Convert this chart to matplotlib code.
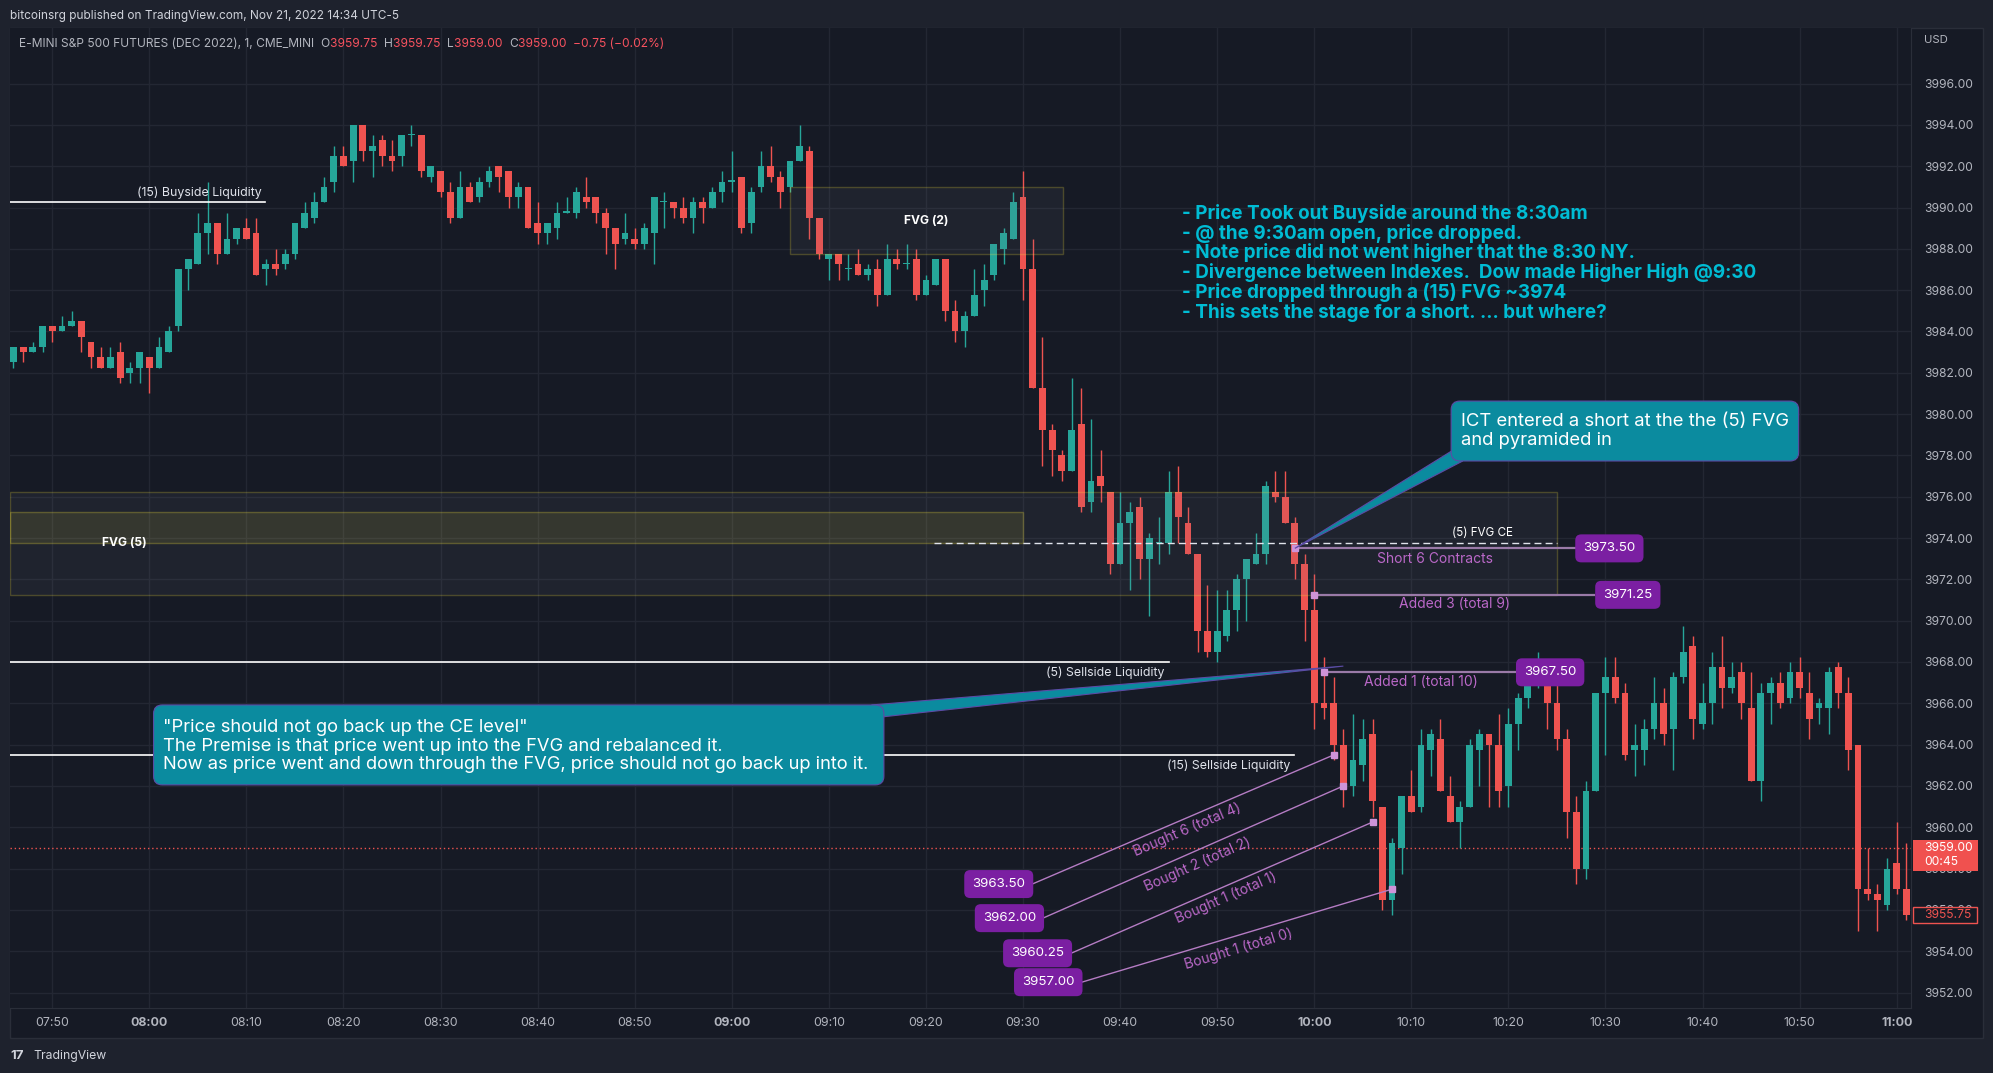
import numpy as np
import matplotlib.pyplot as plt
from matplotlib.patches import Rectangle, FancyBboxPatch, Polygon
from matplotlib.transforms import blended_transform_factory

plt.rcParams['font.family'] = ['Inter', 'DejaVu Sans']

W, H = 1993, 1073

# 1-minute candles, 07:46 .. 11:01 (minutes counted from 08:00)
first_minute = -14
opens = [
    3982.5, 3983.25, 3983.0, 3983.25, 3984.25, 3984.0, 3984.25, 3984.5, 3983.5, 3982.75,
    3982.25, 3983.0, 3982.0, 3982.25, 3982.75, 3982.25, 3983.0, 3984.25, 3987.0, 3987.25,
    3988.75, 3989.25, 3987.75, 3988.5, 3989.0, 3988.75, 3987.0, 3987.25, 3987.25, 3987.75,
    3989.0, 3989.5, 3990.25, 3991.25, 3992.5, 3992.25, 3994.0, 3992.75, 3993.25, 3992.5,
    3992.5, 3993.5, 3993.5, 3991.5, 3991.75, 3990.75, 3989.5, 3991.0, 3990.5, 3991.25,
    3992.0, 3991.75, 3990.5, 3991.0, 3989.25, 3988.75, 3989.0, 3989.75, 3989.75, 3990.5,
    3990.5, 3989.75, 3989.0, 3988.5, 3988.5, 3988.25, 3988.75, 3990.25, 3990.25, 3990.0,
    3989.5, 3990.25, 3990.0, 3990.75, 3991.25, 3991.5, 3989.25, 3991.0, 3992.0, 3991.5,
    3991.0, 3992.25, 3992.75, 3989.5, 3987.5, 3987.75, 3987.0, 3987.25, 3986.75, 3987.0,
    3985.75, 3987.5, 3987.25, 3987.5, 3985.75, 3986.25, 3987.5, 3985.0, 3984.0, 3984.75,
    3986.0, 3986.75, 3988.0, 3988.5, 3990.5, 3987.0, 3981.25, 3979.25, 3978.0, 3977.25,
    3979.5, 3975.75, 3977.0, 3976.25, 3972.75, 3974.75, 3975.5, 3973.0, 3973.75, 3973.75,
    3976.25, 3974.75, 3973.25, 3969.5, 3968.5, 3969.25, 3970.5, 3972.0, 3972.75, 3973.25,
    3976.25, 3976.0, 3974.75, 3972.75, 3970.5, 3966.0, 3966.0, 3964.0, 3962.0, 3963.0,
    3964.5, 3961.0, 3956.5, 3959.0, 3961.5, 3961.0, 3963.75, 3964.25, 3961.5, 3960.25,
    3961.0, 3963.75, 3964.5, 3964.0, 3962.0, 3965.0, 3966.25, 3967.0, 3967.75, 3966.0,
    3964.25, 3960.75, 3958.0, 3961.75, 3966.5, 3967.25, 3966.5, 3963.75, 3963.75, 3964.75,
    3966.0, 3964.75, 3967.25, 3968.75, 3965.0, 3966.0, 3967.75, 3966.75, 3967.5, 3965.75,
    3962.25, 3966.5, 3967.0, 3966.25, 3967.5, 3966.5, 3965.75, 3965.75, 3967.75, 3966.5,
    3964.0, 3957.0, 3956.75, 3956.25, 3958.25, 3957.0,
]
highs = [
    3983.25, 3983.25, 3983.5, 3984.25, 3984.25, 3984.75, 3985.0, 3984.5, 3983.5, 3983.25,
    3983.25, 3983.5, 3982.5, 3983.0, 3982.75, 3983.75, 3984.25, 3987.0, 3987.5, 3989.75,
    3991.25, 3989.25, 3989.75, 3989.0, 3989.5, 3989.5, 3987.5, 3988.0, 3988.0, 3989.25,
    3990.25, 3990.75, 3991.5, 3993.0, 3993.0, 3994.0, 3994.0, 3993.5, 3993.5, 3993.25,
    3993.5, 3994.0, 3993.5, 3992.0, 3991.75, 3991.25, 3991.75, 3991.25, 3991.5, 3992.0,
    3992.0, 3991.75, 3991.25, 3991.0, 3990.25, 3989.25, 3990.25, 3990.5, 3991.0, 3991.5,
    3990.5, 3990.0, 3989.0, 3989.75, 3989.0, 3989.25, 3990.5, 3990.75, 3990.25, 3990.5,
    3990.5, 3990.5, 3991.0, 3991.75, 3992.75, 3991.5, 3991.0, 3992.75, 3993.0, 3991.75,
    3992.25, 3994.0, 3993.0, 3989.5, 3987.75, 3987.75, 3987.75, 3988.0, 3987.25, 3987.5,
    3988.25, 3988.0, 3988.25, 3988.0, 3986.75, 3987.5, 3987.5, 3985.5, 3985.0, 3987.0,
    3987.25, 3988.25, 3989.0, 3990.75, 3991.75, 3988.5, 3983.75, 3979.5, 3978.25, 3981.75,
    3981.25, 3979.75, 3978.25, 3976.25, 3976.25, 3975.75, 3976.0, 3974.25, 3975.0, 3977.25,
    3977.5, 3975.5, 3973.25, 3971.75, 3971.5, 3971.5, 3972.25, 3973.0, 3974.25, 3976.75,
    3977.25, 3977.25, 3975.0, 3973.25, 3972.25, 3968.25, 3967.25, 3964.75, 3965.5, 3965.25,
    3965.25, 3961.0, 3959.5, 3961.5, 3962.75, 3964.75, 3964.75, 3965.25, 3962.5, 3961.25,
    3964.25, 3964.75, 3964.5, 3965.5, 3965.75, 3966.5, 3967.5, 3968.5, 3968.0, 3967.25,
    3964.75, 3961.5, 3962.25, 3966.5, 3968.25, 3968.25, 3967.0, 3965.0, 3965.25, 3967.25,
    3966.75, 3967.5, 3969.75, 3969.25, 3967.0, 3968.5, 3969.25, 3968.0, 3968.0, 3967.5,
    3967.0, 3967.25, 3967.5, 3968.0, 3968.25, 3967.5, 3966.25, 3967.75, 3968.0, 3967.25,
    3964.0, 3959.0, 3957.25, 3958.5, 3960.25, 3959.25,
]
lows = [
    3982.25, 3982.5, 3983.0, 3983.0, 3983.5, 3984.0, 3984.25, 3983.0, 3982.25, 3982.25,
    3982.25, 3981.5, 3981.5, 3981.5, 3981.0, 3982.25, 3983.0, 3984.0, 3986.0, 3987.25,
    3987.75, 3987.25, 3987.75, 3988.25, 3988.5, 3986.75, 3986.25, 3986.75, 3987.0, 3987.5,
    3989.0, 3989.25, 3990.25, 3990.75, 3992.0, 3991.25, 3992.25, 3991.5, 3992.0, 3991.75,
    3992.0, 3993.0, 3991.5, 3991.25, 3990.5, 3989.25, 3989.5, 3990.25, 3990.25, 3991.0,
    3990.75, 3990.0, 3990.0, 3989.0, 3988.25, 3988.25, 3988.5, 3989.75, 3989.5, 3990.0,
    3989.25, 3987.75, 3987.0, 3988.25, 3988.0, 3988.0, 3987.25, 3989.0, 3989.5, 3989.25,
    3988.75, 3989.25, 3990.0, 3990.25, 3990.75, 3988.75, 3988.75, 3990.75, 3991.25, 3990.0,
    3990.75, 3992.25, 3988.5, 3987.5, 3986.5, 3986.5, 3986.5, 3986.75, 3986.5, 3985.25,
    3985.75, 3987.0, 3987.0, 3985.5, 3985.75, 3986.25, 3984.5, 3983.5, 3983.25, 3984.75,
    3985.25, 3986.5, 3987.25, 3988.5, 3985.5, 3981.25, 3977.5, 3977.0, 3976.75, 3977.25,
    3975.25, 3975.25, 3975.75, 3972.25, 3972.75, 3971.5, 3972.0, 3970.25, 3972.75, 3973.25,
    3973.75, 3973.25, 3968.5, 3968.25, 3968.0, 3969.0, 3969.5, 3970.0, 3972.75, 3972.75,
    3975.75, 3974.75, 3972.0, 3969.0, 3964.75, 3965.25, 3963.25, 3961.0, 3961.5, 3962.25,
    3960.5, 3956.0, 3955.75, 3957.75, 3960.75, 3960.75, 3962.5, 3961.75, 3960.25, 3959.0,
    3961.0, 3962.0, 3961.0, 3961.0, 3961.0, 3963.75, 3965.75, 3966.75, 3964.75, 3963.75,
    3959.5, 3957.25, 3957.5, 3961.75, 3963.5, 3966.0, 3963.25, 3962.5, 3963.0, 3964.25,
    3964.0, 3962.75, 3967.0, 3964.25, 3964.75, 3965.0, 3965.75, 3966.5, 3965.25, 3962.25,
    3961.25, 3965.0, 3965.75, 3966.0, 3966.25, 3964.25, 3965.0, 3964.5, 3965.75, 3962.75,
    3955.0, 3956.5, 3955.0, 3956.0, 3956.75, 3955.5,
]
closes = [
    3983.25, 3983.0, 3983.25, 3984.25, 3984.0, 3984.25, 3984.5, 3983.75, 3982.75, 3982.25,
    3982.75, 3981.75, 3982.25, 3983.0, 3982.25, 3983.25, 3984.0, 3987.0, 3987.5, 3988.75,
    3989.25, 3987.75, 3988.5, 3989.0, 3988.5, 3986.75, 3987.25, 3987.0, 3987.75, 3989.25,
    3989.75, 3990.25, 3991.0, 3992.5, 3992.0, 3994.0, 3992.75, 3993.0, 3992.5, 3992.25,
    3993.5, 3993.5, 3991.75, 3992.0, 3990.75, 3989.5, 3991.0, 3990.25, 3991.25, 3991.75,
    3991.5, 3990.5, 3991.0, 3989.0, 3988.75, 3989.25, 3989.75, 3989.75, 3990.75, 3990.25,
    3989.75, 3989.0, 3988.25, 3988.75, 3988.25, 3989.0, 3990.5, 3990.25, 3990.0, 3989.5,
    3990.25, 3990.0, 3990.75, 3991.25, 3991.25, 3989.0, 3990.75, 3992.0, 3991.5, 3990.75,
    3992.25, 3993.0, 3989.5, 3987.75, 3987.75, 3987.25, 3987.0, 3986.75, 3987.0, 3985.75,
    3987.5, 3987.25, 3987.25, 3985.75, 3986.5, 3987.5, 3985.0, 3984.0, 3984.75, 3985.75,
    3986.5, 3988.25, 3988.75, 3990.25, 3987.0, 3981.25, 3979.25, 3978.25, 3977.25, 3979.25,
    3975.5, 3976.75, 3976.5, 3972.75, 3974.75, 3975.25, 3973.0, 3974.0, 3973.75, 3976.25,
    3975.0, 3973.25, 3969.5, 3968.5, 3969.5, 3970.5, 3972.0, 3973.0, 3973.25, 3976.5,
    3976.0, 3974.75, 3972.75, 3970.5, 3966.0, 3965.75, 3964.0, 3962.0, 3963.25, 3964.25,
    3961.25, 3956.5, 3959.25, 3961.5, 3960.75, 3964.0, 3964.5, 3961.75, 3960.25, 3961.0,
    3964.0, 3964.5, 3964.0, 3961.75, 3965.0, 3966.25, 3967.0, 3967.75, 3966.0, 3964.25,
    3960.75, 3958.0, 3961.75, 3966.5, 3967.25, 3966.25, 3963.5, 3964.0, 3964.75, 3966.0,
    3964.5, 3967.25, 3968.5, 3965.25, 3966.0, 3967.75, 3966.75, 3967.25, 3966.0, 3962.25,
    3966.5, 3967.0, 3966.0, 3967.5, 3966.75, 3965.25, 3966.0, 3967.5, 3966.5, 3963.75,
    3957.0, 3956.75, 3956.5, 3958.0, 3957.0, 3955.75,
]

price_ticks = np.arange(3952, 3997, 2)
time_ticks = np.arange(-10, 181, 10)

# drawings
buyside_15 = 3990.25
sellside_5 = 3968.0
sellside_15 = 3963.5
fvg2_time = (66.0, 94.1)
fvg2_price = (3987.75, 3991.0)
fvg5_price = (3971.25, 3976.25)
fvg5_inner_price = (3973.75, 3975.25)
fvg5_end = 145.0
fvg5_inner_end = 90.0
fvg5_ce = 3973.75
last_price = 3959.0
prev_close = 3955.75

entry_times = [118, 120, 121]
entry_prices = [3973.5, 3971.25, 3967.5]
entry_texts = ['Short 6 Contracts', 'Added 3 (total 9)', 'Added 1 (total 10)']
exit_times = [122, 123, 126, 128]
exit_prices = [3963.5, 3962.0, 3960.25, 3957.0]
exit_texts = ['Bought 6 (total 4)', 'Bought 2 (total 2)', 'Bought 1 (total 1)', 'Bought 1 (total 0)']

notes = [
    '- Price Took out Buyside around the 8:30am',
    '- @ the 9:30am open, price dropped.',
    '- Note price did not went higher that the 8:30 NY.',
    '- Divergence between Indexes.  Dow made Higher High @9:30',
    '- Price dropped through a (15) FVG ~3974',
    '- This sets the stage for a short. ... but where?',
]
ict_text = 'ICT entered a short at the the (5) FVG\nand pyramided in'
ce_text = ('"Price should not go back up the CE level"\n'
           'The Premise is that price went up into the FVG and rebalanced it.\n'
           'Now as price went and down through the FVG, price should not go back up into it.')

# colours
BG = '#161a25'
FRAME = '#1e222d'
UP = '#26a69a'
DOWN = '#ef5350'
TXT = '#b2b5be'
PURPLE = '#7b1fa2'
PURPLE_TXT = '#ba68c8'
CALLOUT = '#0b8b9f'

fig = plt.figure(figsize=(W / 100, H / 100), dpi=100, facecolor=FRAME)

# pane background (behind the axes)
fig.patches.append(Rectangle((10 / W, 1 - 1038 / H), 1973 / W, 1010 / H,
                             transform=fig.transFigure, fc=BG, ec='#2a2e39', lw=1, zorder=-5))

ax = fig.add_axes([10 / W, 1 - 1008 / H, 1901 / W, 980 / H])
ax.set_facecolor(BG)
ax.set_xlim(-14.35, 181.47)
ax.set_ylim(3951.25, 3998.69)
x_left = ax.get_xlim()[0]

for s in ax.spines.values():
    s.set_color('#2a2e39')
ax.spines['left'].set_visible(False)
ax.spines['top'].set_visible(False)

ax.yaxis.tick_right()
ax.set_yticks(price_ticks)
ax.set_yticklabels(['%.2f' % p for p in price_ticks])
labels = []
for t in time_ticks:
    hh, mm = divmod(480 + int(t), 60)
    labels.append('%02d:%02d' % (hh, mm))
ax.set_xticks(time_ticks)
ax.set_xticklabels(labels)
for lab, t in zip(ax.get_xticklabels(), time_ticks):
    if t % 60 == 0:
        lab.set_fontweight('bold')
ax.tick_params(axis='y', length=0, pad=9.5, labelsize=8.7, labelcolor=TXT)
ax.tick_params(axis='x', length=0, pad=6.5, labelsize=8.9, labelcolor=TXT)
ax.grid(True, color='#232733', lw=1)
ax.set_axisbelow(True)

# candles
o = np.array(opens)
h = np.array(highs)
l = np.array(lows)
c = np.array(closes)
x = first_minute + np.arange(len(o))
col = np.where(c >= o, UP, DOWN)
ax.vlines(x, l, h, colors=col, lw=1, zorder=3)
ax.bar(x, np.maximum(np.abs(c - o), 0.06), width=0.7, bottom=np.minimum(o, c),
       color=col, zorder=3.1)

# last price line
ax.axhline(last_price, color=DOWN, ls=(0, (1, 2)), lw=1, zorder=2.5)

# FVG boxes
ax.add_patch(Rectangle((x_left, fvg5_price[0]), fvg5_end - x_left, fvg5_price[1] - fvg5_price[0],
                       fc=(0.47, 0.48, 0.53, 0.10), ec=(1, 0.92, 0.23, 0.22), lw=1, zorder=4))
ax.add_patch(Rectangle((x_left, fvg5_inner_price[0]), fvg5_inner_end - x_left,
                       fvg5_inner_price[1] - fvg5_inner_price[0],
                       fc=(1, 0.92, 0.23, 0.10), ec=(1, 0.92, 0.23, 0.25), lw=1, zorder=4))
ax.add_patch(Rectangle((fvg2_time[0], fvg2_price[0]), fvg2_time[1] - fvg2_time[0],
                       fvg2_price[1] - fvg2_price[0],
                       fc=(0.47, 0.48, 0.53, 0.10), ec=(1, 0.92, 0.23, 0.22), lw=1, zorder=4))
ax.text(-2.55, 3973.75, 'FVG (5)', color='white', fontsize=8.7, fontweight='bold',
        ha='center', va='center', zorder=6)
ax.text(80, 3989.35, 'FVG (2)', color='white', fontsize=8.7, fontweight='bold',
        ha='center', va='center', zorder=6)
ax.plot([80.8, fvg5_end], [fvg5_ce, fvg5_ce], color='#e0e3eb', lw=1,
        ls=(0, (5, 3)), zorder=5)
ax.text(140.5, fvg5_ce + 0.2, '(5) FVG CE', color='white', fontsize=8.4,
        ha='right', va='bottom', zorder=6)

# liquidity lines
ax.plot([x_left, 11.9], [buyside_15] * 2, color='white', lw=1.2, zorder=5)
ax.text(11.6, buyside_15 + 0.17, '(15) Buyside Liquidity', color='#e0e3eb', fontsize=8.9,
        ha='right', va='bottom', zorder=6)
ax.plot([x_left, 105.0], [sellside_5] * 2, color='white', lw=1.2, zorder=5)
ax.text(104.6, sellside_5 - 0.2, '(5) Sellside Liquidity', color='#e0e3eb', fontsize=8.9,
        ha='right', va='top', zorder=6)
ax.plot([x_left, 117.9], [sellside_15] * 2, color='white', lw=1.2, zorder=5)
ax.text(117.5, sellside_15 - 0.2, '(15) Sellside Liquidity', color='#e0e3eb', fontsize=8.9,
        ha='right', va='top', zorder=6)

# trades
half_w = 3.45
entry_label_x = [150.4, 152.3, 144.3]
entry_text_xy = [(132.4, 3973.0), (134.5, 3970.8), (131.0, 3967.05)]
label_box = dict(boxstyle='round,pad=0.6,rounding_size=0.45', fc=PURPLE, ec='none')
for t, p, txt, lx, (tx, ty) in zip(entry_times, entry_prices, entry_texts,
                                      entry_label_x, entry_text_xy):
    ax.plot([t, lx - half_w], [p, p], color='#9a7aa8', lw=1.6, zorder=5)
    ax.plot(t, p, 's', ms=4, color='#ce93d8', zorder=7)
    ax.text(lx, p, '%.2f' % p, color='white', fontsize=9.6, ha='center', va='center', zorder=8,
            bbox=label_box)
    ax.text(tx, ty, txt, color=PURPLE_TXT, fontsize=10, ha='center', va='center', zorder=6)

exit_label_xy = [(87.5, 3957.25), (88.6, 3955.6), (91.5, 3953.9), (92.6, 3952.5)]
exit_text_xy = [(106.9, 3959.87), (108.0, 3958.2), (110.9, 3956.56), (112.2, 3954.1)]
for t, p, txt, (lx, ly), (tx, ty) in zip(exit_times, exit_prices, exit_texts,
                                          exit_label_xy, exit_text_xy):
    ax.plot([lx + half_w, t], [ly, p], color='#b57cc4', lw=1.0, zorder=5)
    ax.plot(t, p, 's', ms=4, color='#ce93d8', zorder=7)
    ax.text(lx, ly, '%.2f' % p, color='white', fontsize=9.6, ha='center', va='center', zorder=8,
            bbox=label_box)
    ang = np.degrees(np.arctan2(p - ly, t - (lx + half_w)))
    ax.text(tx, ty, txt, color=PURPLE_TXT, fontsize=10, ha='center', va='center',
            rotation=ang, rotation_mode='anchor', transform_rotates_text=True, zorder=6)

# notes block
for i, line in enumerate(notes):
    ax.text(106.4, 3989.72 - i * 0.96, line, color='#00bcd4', fontsize=13.6, fontweight='bold',
            ha='left', va='center', zorder=6)

# callouts
aspect = 9.708 / 20.66
ax.add_patch(Polygon([(134.1, 3978.2), (135.3, 3977.73), (118.0, 3973.5)], closed=True,
                     fc=CALLOUT, ec='#5c4ba5', lw=0.8, zorder=8))
ax.add_patch(FancyBboxPatch((134.1, 3977.73), 35.8, 2.9,
                            boxstyle='round,pad=0,rounding_size=0.9', mutation_aspect=aspect,
                            fc=CALLOUT, ec='#5c4ba5', lw=0.8, zorder=8))
ax.text(135.1, 3979.18, ict_text, color='white', fontsize=13.3, ha='left', va='center',
        linespacing=1.2, zorder=9)

ax.add_patch(Polygon([(74.4, 3965.92), (75.67, 3965.35), (123.0, 3967.8)], closed=True,
                     fc=CALLOUT, ec='#5c4ba5', lw=0.8, zorder=8))
ax.add_patch(FancyBboxPatch((0.44, 3962.05), 75.23, 3.87,
                            boxstyle='round,pad=0,rounding_size=0.9', mutation_aspect=aspect,
                            fc=CALLOUT, ec='#5c4ba5', lw=0.8, zorder=8))
ax.text(1.41, 3963.93, ce_text, color='white', fontsize=13.2, ha='left', va='center',
        linespacing=1.13, zorder=9)

# price scale markers
bt = blended_transform_factory(ax.transAxes, ax.transData)
ax.add_patch(Rectangle((1.0009, 3957.88), 0.0342, 1.49, transform=bt, clip_on=False,
                       fc='#f0514f', ec='none', zorder=10))
ax.text(1.0068, last_price, '%.2f' % last_price, transform=bt, color='white', fontsize=8.7,
        ha='left', va='center', zorder=11, clip_on=False)
ax.text(1.0068, 3958.3, '00:45', transform=bt, color='white', fontsize=8.7,
        ha='left', va='center', zorder=11, clip_on=False)
ax.add_patch(Rectangle((1.0009, 3955.36), 0.0337, 0.77, transform=bt, clip_on=False,
                       fc=BG, ec=DOWN, lw=1, zorder=10))
ax.text(1.0068, prev_close, '%.2f' % prev_close, transform=bt, color=DOWN, fontsize=8.7,
        ha='left', va='center', zorder=11, clip_on=False)

# header
fig.text(10 / W, 1 - 16 / H, 'bitcoinsrg published on TradingView.com, Nov 21, 2022 14:34 UTC-5',
         color='#d1d4dc', fontsize=8.5, ha='left', va='center')
pieces = [('O', TXT), ('3959.75  ', '#f7525f'), ('H', TXT), ('3959.75  ', '#f7525f'),
          ('L', TXT), ('3959.00  ', '#f7525f'), ('C', TXT), ('3959.00  ', '#f7525f'),
          ('\u22120.75 (\u22120.02%)', '#f7525f')]
prev = fig.text(18.75 / W, 1 - 47 / H, 'E-MINI S&P 500 FUTURES (DEC 2022), 1, CME_MINI  ',
                color=TXT, fontsize=8.65, ha='left', va='baseline')
for txt, cl in pieces:
    prev = fig.add_artist(plt.Annotation(txt, xy=(1, 0), xycoords=prev, xytext=(0, 0),
                                         textcoords='offset points', color=cl, fontsize=8.65,
                                         ha='left', va='bottom', annotation_clip=False))
fig.text(1924 / W, 1 - 40 / H, 'USD', color=TXT, fontsize=8.2, ha='left', va='center')

# footer logo
fig.text(10 / W, 1 - 1056 / H, '17', color='#d1d4dc', fontsize=9.5, fontweight='bold',
         ha='left', va='center')
fig.text(33 / W, 1 - 1056 / H, 'TradingView', color='#d1d4dc', fontsize=8.8,
         ha='left', va='center')

fig.savefig('out.png', dpi=100, facecolor=FRAME)
